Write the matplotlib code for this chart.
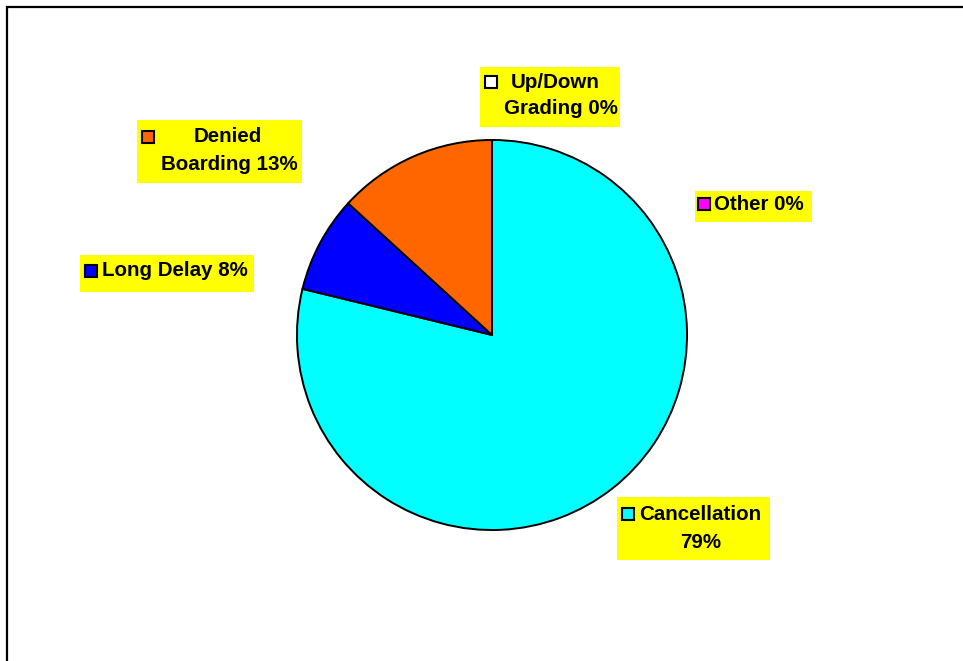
import matplotlib.pyplot as plt
from matplotlib.patches import Rectangle

# Data
categories = ['Cancellation', 'Long Delay', 'Denied Boarding', 'Up/Down Grading', 'Other']
shares = [78.8, 8.0, 13.2, 0.0, 0.0]
colors = ['#00FFFF', '#0000FF', '#FF6600', '#FFFFFF', '#FF00FF']

W, H = 963, 661
fig = plt.figure(figsize=(W / 100, H / 100), dpi=100)
plt.rcParams['font.family'] = ['Liberation Sans', 'DejaVu Sans']

def fx(px):
    return px / W

def fy(py):
    return 1 - py / H

# chart border
fig.patches.append(Rectangle((fx(7), fy(700)), fx(1000), fy(7) - fy(700),
                             transform=fig.transFigure, fill=False,
                             edgecolor='black', linewidth=1.6))

# pie
cx, cy, r = 492, 335, 196
ax = fig.add_axes([fx(cx - r), fy(cy + r), fx(2 * r), (2 * r) / H])
ax.pie(shares, colors=colors, startangle=90, counterclock=False,
       wedgeprops=dict(edgecolor='black', linewidth=1.4), radius=1)
ax.set_xlim(-1.005, 1.005)
ax.set_ylim(-1.005, 1.005)
ax.set_aspect('equal')
ax.axis('off')

# data labels: box, key square, text lines (pixel layout)
labels = {
    'Up/Down Grading': dict(box=(480, 67, 620, 127), sq=(491, 82),
                            lines=[('Up/Down', 555, 82, 'center'), ('Grading 0%', 561, 109, 'center')]),
    'Denied Boarding': dict(box=(137, 120, 302, 183), sq=(148, 137),
                            lines=[('Denied', 228, 137, 'center'), ('Boarding 13%', 229, 164, 'center')]),
    'Long Delay': dict(box=(80, 255, 254, 292), sq=(91, 271),
                       lines=[('Long Delay 8%', 102, 271, 'left')]),
    'Other': dict(box=(695, 191, 812, 222), sq=(704, 204),
                  lines=[('Other 0%', 714, 204, 'left')]),
    'Cancellation': dict(box=(617, 497, 770, 560), sq=(628, 514),
                         lines=[('Cancellation', 639, 514, 'left'), ('79%', 701, 542, 'center')]),
}

for name, col in zip(categories, colors):
    lab = labels[name]
    x0, y0, x1, y1 = lab['box']
    fig.patches.append(Rectangle((fx(x0), fy(y1)), fx(x1 - x0), fy(y0) - fy(y1),
                                 transform=fig.transFigure, facecolor='#FFFF00',
                                 edgecolor='none', zorder=2))
    sx, sy = lab['sq']
    fig.patches.append(Rectangle((fx(sx - 6), fy(sy + 6)), fx(12), 12 / H,
                                 transform=fig.transFigure, facecolor=col,
                                 edgecolor='black', linewidth=1.5, zorder=3))
    for txt, tx, ty, ha in lab['lines']:
        fig.text(fx(tx), fy(ty), txt, ha=ha, va='center', fontsize=14.8,
                 fontweight='bold', zorder=4)

fig.savefig('out.png', dpi=100)
